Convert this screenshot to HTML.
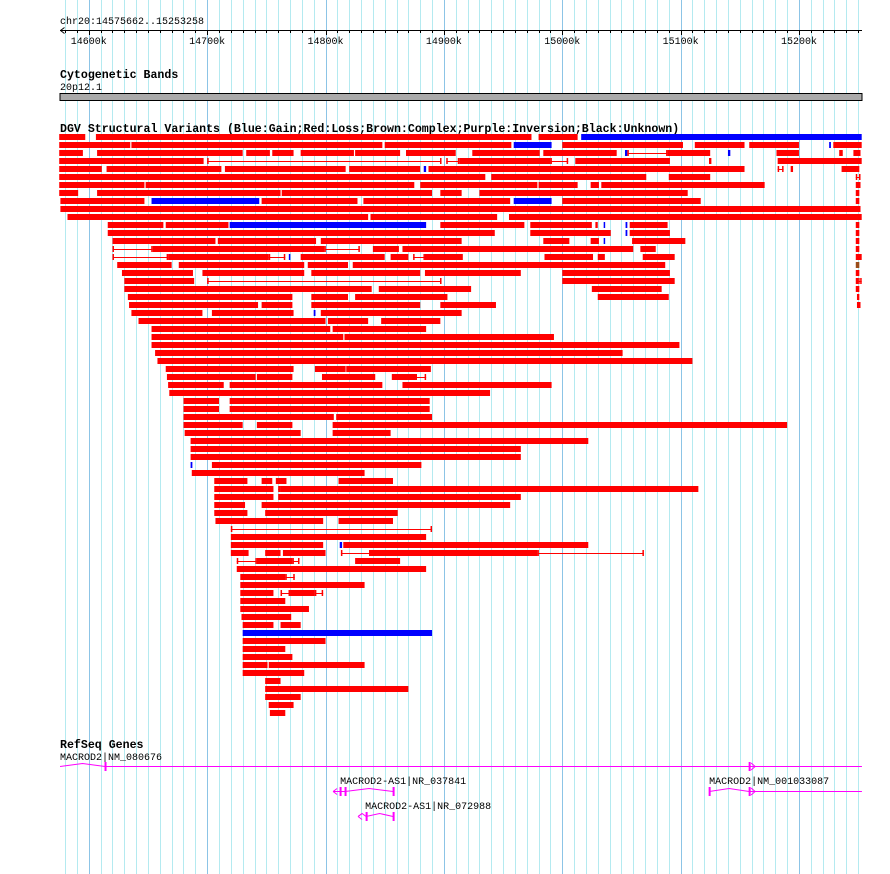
<!DOCTYPE html>
<html><head><meta charset="utf-8">
<style>
html,body{margin:0;padding:0;background:#fff;}
svg{display:block;}
text{font-family:"Liberation Mono",monospace;}
</style></head>
<body>
<svg id="chart" width="890" height="874" viewBox="0 0 890 874" xmlns="http://www.w3.org/2000/svg">
  <rect x="0" y="0" width="890" height="874" fill="#ffffff"/>
  <g id="grid"></g>
  <g id="ruler"></g>
  <text x="60" y="24" font-size="10" fill="#000">chr20:14575662..15253258</text>
  <text x="60" y="78" font-size="11.6" font-weight="bold" fill="#000">Cytogenetic Bands</text>
  <text x="60" y="90" font-size="10" fill="#000">20p12.1</text>
  <rect x="60" y="93.5" width="802" height="7" fill="#aaaaaa" stroke="#000" stroke-width="1"/>
  <text x="60" y="132" font-size="11.6" font-weight="bold" fill="#000">DGV Structural Variants (Blue:Gain;Red:Loss;Brown:Complex;Purple:Inversion;Black:Unknown)</text>
  <g id="sv"></g>
  <text x="60" y="748" font-size="11.6" font-weight="bold" fill="#000">RefSeq Genes</text>
  <g id="genes"></g>
</svg>
<script>
const regionStart = 14575.662;
const regionEnd = 15253.258;
const majorTicks = [14600, 14700, 14800, 14900, 15000, 15100, 15200];
const majorLabels = ["14600k","14700k","14800k","14900k","15000k","15100k","15200k"];
// [row, startKb, endKb, type] r=loss b=gain n=complex t=thin span
const svVariants = [
[0,14575,14597,'r'],[0,14606,14974,'r'],[0,14980,15013,'r'],[0,15016,15253,'b'],
[1,14575,14635,'r'],[1,14636,14848,'r'],[1,14850,14957,'r'],[1,14959,14991,'b'],[1,15000,15102,'r'],[1,15112,15154,'r'],[1,15158,15200,'r'],[1,15225.5,15227,'b'],[1,15229,15253,'r'],
[2,14575,14595,'r'],[2,14607,14730,'r'],[2,14733,14753,'r'],[2,14755,14773,'r'],[2,14779,14824,'r'],[2,14825,14863,'r'],[2,14868,14910,'r'],[2,14924,14981,'r'],[2,14984,15046,'r'],[2,15053,15055,'b'],[2,15055,15089,'t'],[2,15089,15125,'r'],[2,15140,15142,'b'],[2,15181,15200,'r'],[2,15234,15237,'r'],[2,15246,15252,'r'],
[3,14575,14697,'r'],[3,14700,14898,'t'],[3,14902,14913,'t'],[3,14913,14990,'r'],[3,14990,15005,'t'],[3,15011,15091,'r'],[3,15124,15126,'r'],[3,15182,15253,'r'],
[4,14575,14611,'r'],[4,14615,14712,'r'],[4,14715,14817,'r'],[4,14820,14880,'r'],[4,14883,14885,'b'],[4,14887,15154,'r'],[4,15182,15187,'t'],[4,15193,15195,'r'],[4,15236,15251,'r'],
[5,14575,14935,'r'],[5,14940,15071,'r'],[5,15090,15125,'r'],[5,15248,15252,'t'],
[6,14575,14647,'r'],[6,14648,14875,'r'],[6,14880,14979,'r'],[6,14980,15013,'r'],[6,15024,15031,'r'],[6,15033,15171,'r'],[6,15248,15252,'r'],
[7,14575,14591,'r'],[7,14607,14762,'r'],[7,14763,14890,'r'],[7,14897,14915,'r'],[7,14930,15106,'r'],[7,15248,15251,'r'],
[8,14576,14647,'r'],[8,14653,14744,'b'],[8,14746,14827,'r'],[8,14832,14956,'r'],[8,14959,14991,'b'],[8,15000,15117,'r'],[8,15248,15251,'r'],
[9,14576,15252,'r'],
[10,14582,14836,'r'],[10,14838,14945,'r'],[10,14955,15253,'r'],
[11,14616,14663,'r'],[11,14665,14718,'r'],[11,14719,14885,'b'],[11,14897,14968,'r'],[11,14973,15025,'r'],[11,15028,15030,'r'],[11,15035,15036,'b'],[11,15053.5,15055,'b'],[11,15057,15089,'r'],[11,15248,15251,'r'],
[12,14616,14943,'r'],[12,14973,15041,'r'],[12,15053.5,15055,'b'],[12,15057,15091,'r'],[12,15248,15251,'r'],
[13,14620,14707,'r'],[13,14709,14792,'r'],[13,14796,14915,'r'],[13,14984,15006,'r'],[13,15024,15031,'r'],[13,15035,15036,'b'],[13,15059,15104,'r'],[13,15248,15251,'r'],
[14,14620,14654,'t'],[14,14654,14799,'r'],[14,14799,14829,'t'],[14,14840,14862,'r'],[14,14865,15060,'r'],[14,15066,15079,'r'],[14,15248,15251,'r'],
[15,14620,14667,'t'],[15,14667,14752,'r'],[15,14752,14766,'t'],[15,14769,14770,'b'],[15,14779,14850,'r'],[15,14855,14870,'r'],[15,14874,14884,'t'],[15,14884,14916,'r'],[15,14985,15026,'r'],[15,15030,15036,'r'],[15,15068,15095,'r'],[15,15248,15253,'r'],
[16,14624,14670,'r'],[16,14676,14782,'r'],[16,14785,14819,'r'],[16,14823,15087,'r'],[16,15248,15251,'n'],
[17,14628,14688,'r'],[17,14696,14782,'r'],[17,14788,14880,'r'],[17,14884,14965,'r'],[17,15000,15091,'r'],[17,15248,15251,'r'],
[18,14630,14689,'r'],[18,14700,14898,'t'],[18,15000,15095,'r'],[18,15248,15250,'r'],[18,15250,15253,'t'],
[19,14630,14839,'r'],[19,14845,14923,'r'],[19,15025,15084,'r'],[19,15248,15251,'r'],
[20,14633,14772,'r'],[20,14788,14819,'r'],[20,14825,14903,'r'],[20,15030,15090,'r'],[20,15249,15251,'r'],
[21,14634,14743,'r'],[21,14746,14772,'r'],[21,14788,14880,'r'],[21,14897,14944,'r'],[21,15249,15252,'r'],
[22,14636,14696,'r'],[22,14704,14773,'r'],[22,14790,14791.5,'b'],[22,14796,14915,'r'],
[23,14642,14800,'r'],[23,14802,14836,'r'],[23,14847,14897,'r'],
[24,14653,14804,'r'],[24,14806,14885,'r'],
[25,14653,14815,'r'],[25,14816,14993,'r'],
[26,14653,15099,'r'],
[27,14656,15051,'r'],
[28,14658,15110,'r'],
[29,14665,14773,'r'],[29,14791,14817,'r'],[29,14817.5,14889,'r'],
[30,14666,14741,'r'],[30,14742,14772,'r'],[30,14797,14842,'r'],[30,14856,14876,'r'],[30,14876,14885,'t'],
[31,14667,14714,'r'],[31,14719,14848,'r'],[31,14865,14991,'r'],
[32,14668,14939,'r'],
[33,14680,14710,'r'],[33,14719,14888,'r'],
[34,14680,14710,'r'],[34,14719,14888,'r'],
[35,14680,14807,'r'],[35,14809,14890,'r'],
[36,14680,14730,'r'],[36,14742,14772,'r'],[36,14806,15190,'r'],
[37,14681,14779,'r'],[37,14806,14855,'r'],
[38,14686,15022,'r'],
[39,14686,14965,'r'],
[40,14686,14965,'r'],
[41,14686,14687.5,'b'],[41,14704,14881,'r'],
[42,14687,14833,'r'],
[43,14706,14734,'r'],[43,14746,14755,'r'],[43,14758,14767,'r'],[43,14811,14857,'r'],
[44,14706,14756,'r'],[44,14760,14762,'t'],[44,14762,15115,'r'],
[45,14706,14756,'r'],[45,14760,14965,'r'],
[46,14706,14732,'r'],[46,14746,14956,'r'],
[47,14706,14734,'r'],[47,14749,14861,'r'],
[48,14707,14798,'r'],[48,14811,14857,'r'],
[49,14720,14890,'t'],
[50,14720,14885,'r'],
[51,14720,14798,'r'],[51,14812,14814,'b'],[51,14815,15022,'r'],
[52,14720,14735,'r'],[52,14749,14762,'r'],[52,14764,14800,'r'],[52,14813,14838,'t'],[52,14838,14979,'r'],[52,14979,15069,'t'],
[53,14725,14742,'t'],[53,14742,14772,'r'],[53,14772,14778,'t'],[53,14825,14863,'r'],
[54,14725,14885,'r'],
[55,14728,14766,'r'],[55,14766,14774,'t'],
[56,14728,14833,'r'],
[57,14728,14756,'r'],[57,14762,14770,'t'],[57,14770,14791,'r'],[57,14791,14798,'t'],
[58,14728,14766,'r'],
[59,14728,14786,'r'],
[60,14729,14771,'r'],
[61,14730,14756,'r'],[61,14762,14779,'r'],
[62,14730,14890,'b'],
[63,14730,14800,'r'],
[64,14730,14766,'r'],
[65,14730,14772,'r'],
[66,14730,14751,'r'],[66,14752,14833,'r'],
[67,14730,14782,'r'],
[68,14749,14762,'r'],
[69,14749,14870,'r'],
[70,14749,14779,'r'],
[71,14752,14773,'r'],
[72,14753,14766,'r']
];
const geneNames = ["MACROD2|NM_080676","MACROD2-AS1|NR_037841","MACROD2-AS1|NR_072988","MACROD2|NM_001033087"];
const geneStarts = [14575.7, 14806.4, 14827.5, 15124.1];
const geneEnds = [15253.2, 14857.1, 14857.1, 15253.2];
const geneExons = [[14613.7, 15157.9], [14812.3, 14816.5, 14857.1], [14834.3, 14857.1], [15124.1, 15157.9]];
const geneStrand = ['+', '-', '-', '+'];

const NS = 'http://www.w3.org/2000/svg';
const X0 = 60, X1 = 862;
function xScale(kb){ return X0 + (kb - regionStart) * (X1 - X0) / (regionEnd - regionStart); }
function rowY(r){ return 134 + 8 * r; }
function mk(tag, attrs, parent){ const e = document.createElementNS(NS, tag); for (const k in attrs) e.setAttribute(k, attrs[k]); parent.appendChild(e); return e; }

// grid
const grid = document.getElementById('grid');
for (let k = Math.ceil(regionStart/10)*10; k <= regionEnd; k += 10) {
  const x = Math.round(xScale(k)) + 0.5;
  const major = (k % 100 === 0);
  const ln = mk('line', {x1:x, x2:x, y1:0, y2:874, stroke: major ? '#8cc4e6' : '#b4eaf0', 'stroke-width':1}, grid);
  
  
}
// ruler
const ruler = document.getElementById('ruler');
const axl = mk('line', {x1:X0, x2:X1, y1:30.5, y2:30.5, stroke:'#000', 'stroke-width':1}, ruler);


const arr = mk('path', {d:'M60.5 30.5 L64.5 27.5 M60.5 30.5 L64.5 33.5', stroke:'#000', fill:'none'}, ruler);


for (let k = Math.ceil(regionStart/10)*10; k <= regionEnd; k += 10) {
  const x = Math.round(xScale(k)) + 0.5;
  const t = mk('line', {x1:x, x2:x, y1:30, y2:(k%100===0)?35:33, stroke:'#000', 'stroke-width':1}, ruler);
  
  
}
majorTicks.forEach((k, i) => {
  const tx = mk('text', {x: xScale(k), y: 44, 'font-size': 10, 'text-anchor':'middle', fill:'#000'}, ruler);
  tx.textContent = majorLabels[i];
  
  
});
// structural variants
const sv = document.getElementById('sv');
const colors = {r:'#ff0000', b:'#0000ff', n:'#994c1a', t:'#ff0000'};
svVariants.forEach(v => {
  const [row, s, e, type] = v;
  const xa = xScale(s), xb = xScale(e), y = rowY(row);
  if (type === 't') {
    const g = mk('g', {}, sv);
    
    
    mk('line', {x1:xa, x2:xb, y1:y+3.5, y2:y+3.5, stroke:'#ff0000', 'stroke-width':1}, g);
    mk('rect', {x:xa, y:y, width:1.5, height:6, fill:'#ff0000'}, g);
    mk('rect', {x:xb-1.5, y:y, width:1.5, height:6, fill:'#ff0000'}, g);
  } else {
    const rc = mk('rect', {x:xa, y:y, width:Math.max(1.5, xb-xa), height:6, fill:colors[type]}, sv);
    
    
  }
});
// genes
const genesG = document.getElementById('genes');
const geneY = [766, 791, 816, 791];
const labelY = [760, 784, 809, 784];
geneNames.forEach((name, i) => {
  const g = mk('g', {}, genesG);
  
  
  const xa = xScale(geneStarts[i]), xb = xScale(geneEnds[i]), y = geneY[i];
  const lb = mk('text', {x: Math.max(60, xa + ((i===1||i===2)?7:0)), y: labelY[i], 'font-size':10, fill:'#000'}, g);
  lb.textContent = name;
  const ex = geneExons[i].map(xScale);
  const pts = [xa, ...ex, xb];
  let d = 'M' + xa + ' ' + (y+0.5);
  for (let j = 1; j < pts.length; j++) {
    const a = pts[j-1], b = pts[j];
    if (b - a > 8 && b - a < 80) d += ' L' + ((a+b)/2) + ' ' + (y-2.5) + ' L' + b + ' ' + (y+0.5);
    else d += ' L' + b + ' ' + (y+0.5);
  }
  mk('path', {d:d, stroke:'#ff00ff', fill:'none', 'stroke-width':1}, g);
  ex.forEach(x => mk('rect', {x:x-0.5, y:y-4, width:2, height:9, fill:'#ff00ff'}, g));
  if (geneStrand[i] === '-') {
    mk('path', {d:'M'+xa+' '+(y+0.5)+' l4 -3 M'+xa+' '+(y+0.5)+' l4 3', stroke:'#ff00ff', fill:'none'}, g);
  } else {
    const ax = ex[ex.length-1] + 2;
    mk('path', {d:'M'+ax+' '+(y-3)+' l4 3.5 l-4 3.5', stroke:'#ff00ff', fill:'none'}, g);
  }
});
</script>
</body></html>
